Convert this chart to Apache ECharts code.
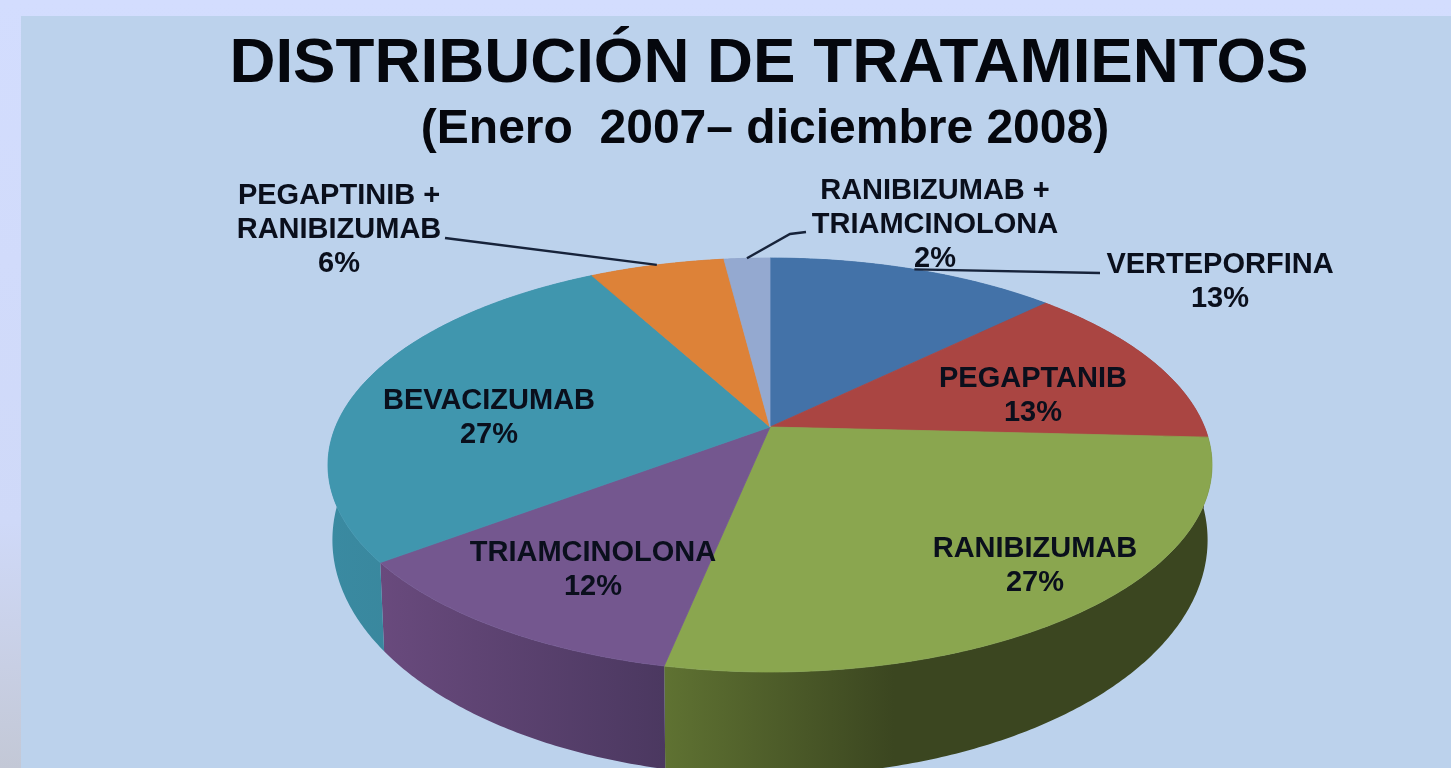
<!DOCTYPE html>
<html><head><meta charset="utf-8">
<style>html,body{margin:0;padding:0;background:#d2dcfd;overflow:hidden}#c{width:1451px;height:768px;filter:blur(0.7px)}</style>
<script src="https://cdn.jsdelivr.net/npm/echarts@6/dist/echarts.min.js"></script>
</head><body><div id="c"></div>
<script>
// ---- data ----
const names = ['VERTEPORFINA','PEGAPTANIB','RANIBIZUMAB','TRIAMCINOLONA','BEVACIZUMAB','PEGAPTINIB +\nRANIBIZUMAB','RANIBIZUMAB +\nTRIAMCINOLONA'];
const percents = [12.7,13.1,27.4,11.5,27.4,5.9,2.0];
const titleText = 'DISTRIBUCIÓN DE TRATAMIENTOS';
const subtitleText = '(Enero  2007– diciembre 2008)';

// ---- styles and layout ----
const topColors = ['#4372a8','#aa4542','#8aa64f','#74578f','#4096ae','#dd8238','#94a9d0'];
const wallStops = [
  ['#335a86','#335a86'],['#7f3331','#7f3331'],['#5f7232','#3b4620'],
  ['#694a7d','#4b3860'],['#3a8aa1','#367f94'],['#a8632a','#a8632a'],['#7385a6','#7385a6']];
const wallGradientEnd = [1,1,0.42,1,1,1,1];
const labelCenters = [[1220,282],[1033,396],[1035,566],[593,570],[489,418],[339,230],[935,225]];
const leaderStart = [[[1100,273]],null,null,null,null,[[445,238]],[[806,232],[790,234]]];
const lens = {cx:770, cy:427, rx:434.5, ry:200, k:0.1836, wallX:0.99, wallY:1.14, wallD:69.7};
const labelFont = 'bold 29px "Liberation Sans", Arial, sans-serif';

const total = percents.reduce((a,b)=>a+b,0);
function angleAt(frac){ return frac*2*Math.PI; }
function project(theta,r){
  const u=r*Math.sin(theta), v=r*Math.cos(theta), w=1+lens.k*v;
  return [lens.cx+lens.rx*u/w, lens.cy-lens.ry*v/w];
}
function lowered(p){
  return [lens.cx+(p[0]-lens.cx)*lens.wallX, lens.cy+lens.wallD+(p[1]-lens.cy)*lens.wallY];
}
function sliceRange(i){
  let s=0; for(let j=0;j<i;j++) s+=percents[j];
  return [angleAt(s/total), angleAt((s+percents[i])/total)];
}
function rim(a,b){
  const n=Math.max(4,Math.ceil((b-a)/0.01)), pts=[];
  for(let i=0;i<=n;i++) pts.push(project(a+(b-a)*i/n,1));
  return pts;
}
const chart = echarts.init(document.getElementById('c'),null,{renderer:'canvas'});
chart.setOption({
  animation:false,
  backgroundColor:{type:'linear',x:0,y:0,x2:0,y2:1,colorStops:[
    {offset:0,color:'#d3ddfe'},{offset:0.68,color:'#cfd9f8'},{offset:1,color:'#c3c8d6'}]},
  graphic:[{type:'rect',z:0,shape:{x:21,y:16,width:1430,height:752},style:{fill:'#bcd2ec'}}],
  title:[
    {text:titleText,left:764,top:27,textAlign:'center',
     textStyle:{fontFamily:'"Liberation Sans", Arial, sans-serif',fontWeight:'bold',fontSize:63.7,color:'#05070d'}},
    {text:subtitleText,left:760,top:101,textAlign:'center',
     textStyle:{fontFamily:'"Liberation Sans", Arial, sans-serif',fontWeight:'bold',fontSize:48,color:'#05070d'}}
  ],
  series:[
    { type:'custom',coordinateSystem:'none',z:2,silent:true,data:percents,
      renderItem(params){
        const i=params.dataIndex,[a,b]=sliceRange(i),top=rim(a,b),low=top.map(lowered).reverse();
        return {type:'polygon',shape:{points:top.concat(low)},
          style:{fill:{type:'linear',x:0,y:0,x2:1,y2:0,colorStops:[
            {offset:0,color:wallStops[i][0]},
            {offset:wallGradientEnd[i],color:wallStops[i][1]},
            {offset:1,color:wallStops[i][1]}]}}};
      }},
    { type:'custom',coordinateSystem:'none',z:3,silent:true,data:percents,
      renderItem(params){
        const i=params.dataIndex,[a,b]=sliceRange(i);
        const pts=[[lens.cx,lens.cy]].concat(rim(a,b));
        return {type:'polygon',shape:{points:pts},
          style:{fill:topColors[i],stroke:topColors[i],lineWidth:0.8}};
      }},
    { type:'custom',coordinateSystem:'none',z:4,silent:true,data:percents,
      renderItem(params,api){
        const i=params.dataIndex,[a,b]=sliceRange(i),children=[];
        if(leaderStart[i]){
          children.push({type:'polyline',
            shape:{points:leaderStart[i].concat([project((a+b)/2,1)])},
            style:{fill:null,stroke:'#17233a',lineWidth:2.4}});
        }
        children.push({type:'text',style:{
          text:names[i]+'\n'+Math.round(api.value(0))+'%',
          x:labelCenters[i][0],y:labelCenters[i][1],align:'center',verticalAlign:'middle',
          font:labelFont,lineHeight:34,fill:'#0a0f1c'}});
        return {type:'group',children};
      }}
  ]
});
</script></body></html>
